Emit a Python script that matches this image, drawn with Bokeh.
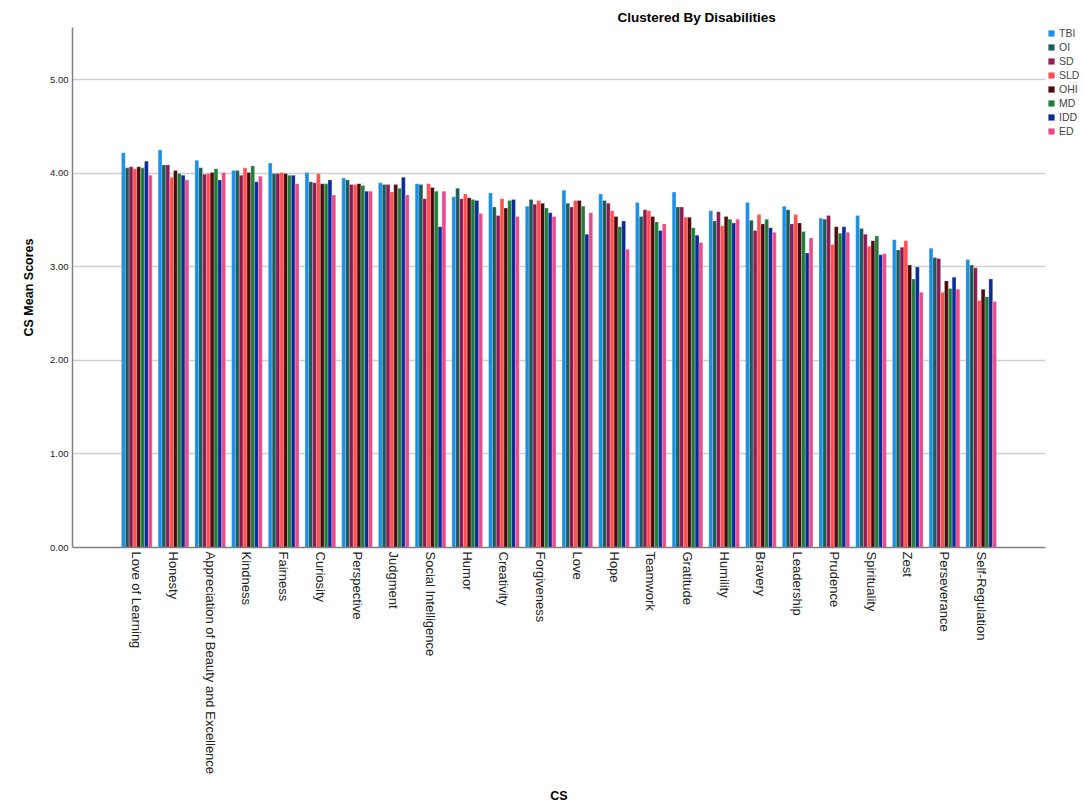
import math
import numpy as np
from bokeh.plotting import figure
from bokeh.layouts import row
from bokeh.models import (FactorRange, Range1d, Legend, LegendItem, FixedTicker,
                          ColumnDataSource, PrintfTickFormatter)
from bokeh.transform import dodge
from bokeh.embed import file_html
from bokeh.resources import INLINE

categories = ["Love of Learning", "Honesty", "Appreciation of Beauty and Excellence",
              "Kindness", "Fairness", "Curiosity", "Perspective", "Judgment",
              "Social Intelligence", "Humor", "Creativity", "Forgiveness", "Love",
              "Hope", "Teamwork", "Gratitude", "Humility", "Bravery", "Leadership",
              "Prudence", "Spirituality", "Zest", "Perseverance", "Self-Regulation"]

series_names = ["TBI", "OI", "SD", "SLD", "OHI", "MD", "IDD", "ED"]

TBI = [4.22, 4.25, 4.14, 4.03, 4.11, 4.01, 3.95, 3.90, 3.89, 3.75, 3.79, 3.65,
       3.82, 3.78, 3.69, 3.80, 3.60, 3.69, 3.65, 3.52, 3.55, 3.29, 3.20, 3.08]
OI = [4.06, 4.09, 4.06, 4.03, 4.00, 3.91, 3.93, 3.88, 3.88, 3.84, 3.64, 3.72,
      3.68, 3.71, 3.54, 3.64, 3.49, 3.50, 3.61, 3.51, 3.41, 3.18, 3.10, 3.02]
SD = [4.07, 4.09, 3.99, 3.98, 4.00, 3.90, 3.88, 3.88, 3.73, 3.73, 3.55, 3.67,
      3.64, 3.68, 3.61, 3.64, 3.59, 3.39, 3.46, 3.55, 3.35, 3.21, 3.09, 2.99]
SLD = [4.05, 3.96, 4.00, 4.06, 4.01, 4.00, 3.88, 3.80, 3.89, 3.78, 3.73, 3.71,
       3.71, 3.60, 3.60, 3.53, 3.44, 3.56, 3.56, 3.24, 3.22, 3.28, 2.73, 2.64]
OHI = [4.07, 4.03, 4.01, 4.01, 4.00, 3.89, 3.89, 3.88, 3.85, 3.74, 3.63, 3.68,
       3.71, 3.54, 3.54, 3.53, 3.54, 3.46, 3.47, 3.43, 3.28, 3.02, 2.85, 2.76]
MD = [4.06, 4.00, 4.05, 4.08, 3.98, 3.89, 3.87, 3.84, 3.81, 3.72, 3.71, 3.63,
      3.65, 3.43, 3.48, 3.42, 3.51, 3.51, 3.38, 3.36, 3.33, 2.87, 2.77, 2.68]
IDD = [4.13, 3.98, 3.93, 3.91, 3.98, 3.93, 3.81, 3.96, 3.43, 3.71, 3.72, 3.58,
       3.35, 3.49, 3.39, 3.34, 3.47, 3.42, 3.15, 3.43, 3.13, 3.00, 2.89, 2.87]
ED = [3.98, 3.93, 4.01, 3.97, 3.89, 3.77, 3.81, 3.77, 3.81, 3.57, 3.54, 3.54,
      3.58, 3.19, 3.46, 3.26, 3.51, 3.37, 3.31, 3.37, 3.14, 2.73, 2.76, 2.63]

y_ticks = [0, 1, 2, 3, 4, 5]

colors = ["#1B8FE6", "#1A5C5A", "#8E1A52", "#FF4F4F",
          "#4C0A0E", "#1F7E3A", "#0B2A99", "#EC4B8B"]

FONT = "Liberation Sans"

source = ColumnDataSource(dict(cs=categories, TBI=TBI, OI=OI, SD=SD, SLD=SLD,
                               OHI=OHI, MD=MD, IDD=IDD, ED=ED))

# ---- main chart ----
p = figure(width=1047, height=806,
           x_range=FactorRange(factors=categories, range_padding=0.1043,
                               range_padding_units="percent"),
           y_range=Range1d(0, 5.56),
           output_backend="svg", toolbar_location=None,
           min_border_left=72, min_border_right=2,
           min_border_top=26, min_border_bottom=259,
           title="Clustered By Disabilities")

w = 0.1045
for k, name in enumerate(series_names):
    p.vbar(x=dodge("cs", (k - 3.5) * w, range=p.x_range), top=name, width=w,
           source=source, fill_color=colors[k], line_color="white",
           line_width=0.3, line_alpha=0.8)

p.title.align = "left"
p.title.offset = 545
p.title.text_font = FONT
p.title.text_font_size = "13.5px"
p.title.text_font_style = "bold"
p.title.text_color = "#000000"
p.title.standoff = 6

p.outline_line_color = None
p.background_fill_color = "white"
p.xgrid.grid_line_color = None
p.ygrid.grid_line_color = "#cfcfcf"
p.ygrid.grid_line_width = 1.5

p.yaxis.ticker = FixedTicker(ticks=y_ticks)
p.yaxis.formatter = PrintfTickFormatter(format="%.2f")
p.yaxis.axis_label = "CS Mean Scores"
p.xaxis.axis_label = "CS"

for ax in (p.xaxis, p.yaxis):
    ax.axis_line_color = "#808080"
    ax.axis_line_width = 1.5
    ax.major_tick_line_color = None
    ax.minor_tick_line_color = None
    ax.major_tick_out = 0
    ax.major_tick_in = 0
    ax.minor_tick_out = 0
    ax.minor_tick_in = 0
    ax.major_label_text_font = FONT
    ax.major_label_text_color = "#222222"
    ax.axis_label_text_font = FONT
    ax.axis_label_text_font_size = "12.5px"
    ax.axis_label_text_font_style = "bold"
    ax.axis_label_text_color = "#000000"
    ax.major_label_standoff = 4

p.yaxis.major_label_text_font_size = "9.5px"
p.yaxis.axis_label_standoff = 11
p.xaxis.major_label_text_font_size = "13px"
p.xaxis.major_label_orientation = -math.pi / 2
p.xaxis.axis_label_standoff = 12

# ---- legend panel: proxy renderers with no drawable value carry the styles ----
q = figure(width=37, height=806,
           x_range=Range1d(0, 1), y_range=Range1d(0, 1),
           x_axis_type=None, y_axis_type=None,
           output_backend="svg", toolbar_location=None,
           min_border_left=0, min_border_right=0,
           min_border_top=27, min_border_bottom=0)
q.outline_line_color = None
q.xgrid.grid_line_color = None
q.ygrid.grid_line_color = None

proxy = ColumnDataSource(dict(x=np.array([np.nan]), top=np.array([np.nan])))
items = []
for k, name in enumerate(series_names):
    r = q.vbar(x="x", top="top", width=w, source=proxy,
               fill_color=colors[k], line_color="white", line_width=0.3,
               line_alpha=0.8)
    items.append(LegendItem(label=name, renderers=[r]))

legend = Legend(items=items, location="top_left", margin=0, padding=0, spacing=2,
                glyph_width=8, glyph_height=8, label_standoff=4,
                label_text_font_size="10.5px", label_text_font=FONT,
                label_height=12, label_width=20,
                border_line_color=None, background_fill_alpha=0)
q.add_layout(legend)

layout = row(p, q)
open("out.html", "w").write(file_html(layout, INLINE))
